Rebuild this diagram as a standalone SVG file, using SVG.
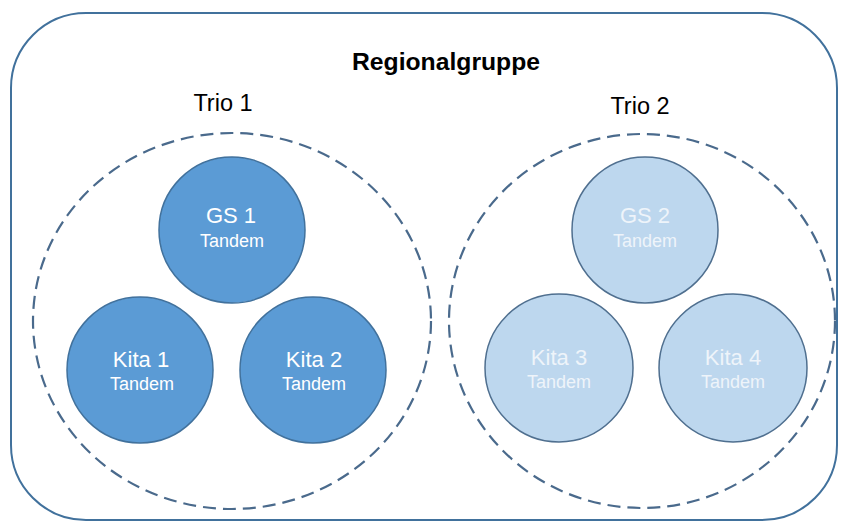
<svg xmlns="http://www.w3.org/2000/svg" width="842" height="523" viewBox="0 0 842 523">
<style>
.outer{fill:#fff;stroke:#41719c;stroke-width:2}
.trio{fill:none;stroke:#4a6a8c;stroke-width:2.2;stroke-dasharray:13 7}
.dark{fill:#5b9bd5;stroke:#41719c;stroke-width:1.5}
.light{fill:#bdd7ee;stroke:#4f6f8f;stroke-width:1.5}
.t{font-family:"Liberation Sans",Arial,sans-serif;text-anchor:middle}
.title{font-size:24px;font-weight:bold;fill:#000}
.lbl{font-size:23.5px;fill:#000}
.n1{font-size:22px;fill:#fff}
.n2{font-size:18px;fill:#fff}
.l1{font-size:22px;fill:#eef4fa}
.l2{font-size:18px;fill:#eef4fa}
</style>
<rect width="842" height="523" fill="#fff"/>
<g id="regionalgruppe">
<rect class="outer" x="11" y="13" width="826" height="507" rx="75" ry="75"/>
<text class="t title" x="446" y="70" textLength="188" lengthAdjust="spacingAndGlyphs">Regionalgruppe</text>
</g>
<g id="trio1">
<ellipse class="trio" cx="232" cy="321" rx="199" ry="188"/>
<text class="t lbl" x="223" y="111">Trio 1</text>
</g>
<g id="trio2">
<ellipse class="trio" cx="642" cy="321" rx="193" ry="187"/>
<text class="t lbl" x="640" y="114">Trio 2</text>
</g>
<g id="gs1">
<circle class="dark" cx="232" cy="230" r="73"/>
<text class="t n1" x="231" y="223">GS 1</text>
<text class="t n2" x="232" y="247">Tandem</text>
</g>
<g id="kita1">
<circle class="dark" cx="140" cy="370" r="73"/>
<text class="t n1" x="141" y="367">Kita 1</text>
<text class="t n2" x="142" y="390">Tandem</text>
</g>
<g id="kita2">
<circle class="dark" cx="313" cy="370" r="73"/>
<text class="t n1" x="314" y="367">Kita 2</text>
<text class="t n2" x="314" y="390">Tandem</text>
</g>
<g id="gs2">
<circle class="light" cx="645" cy="230" r="73"/>
<text class="t l1" x="645" y="223">GS 2</text>
<text class="t l2" x="645" y="247">Tandem</text>
</g>
<g id="kita3">
<circle class="light" cx="559" cy="368" r="74"/>
<text class="t l1" x="559" y="365">Kita 3</text>
<text class="t l2" x="559" y="388">Tandem</text>
</g>
<g id="kita4">
<circle class="light" cx="733" cy="368" r="74"/>
<text class="t l1" x="733" y="365">Kita 4</text>
<text class="t l2" x="733" y="388">Tandem</text>
</g>
<g id="connectors"/>
</svg>
